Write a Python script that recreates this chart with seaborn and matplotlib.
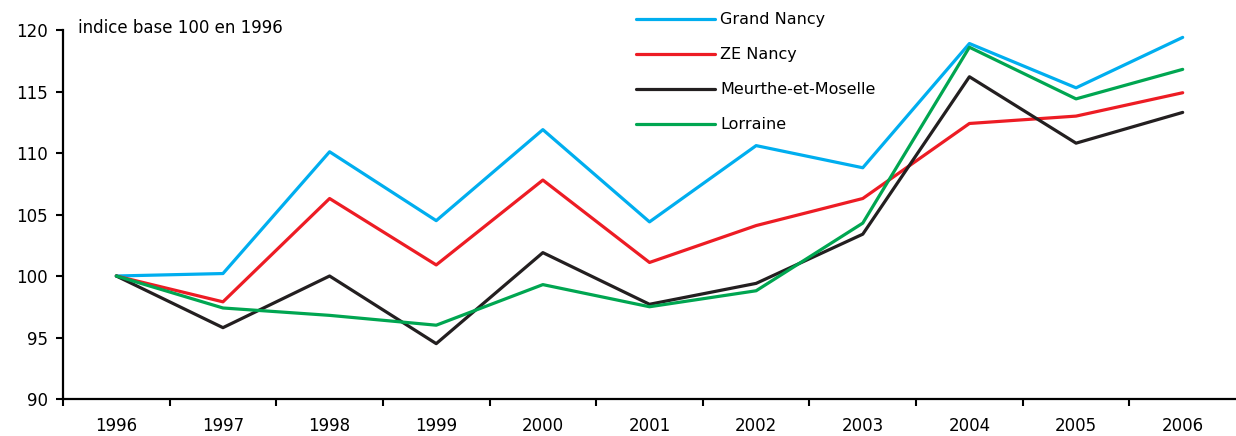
import pandas as pd
import numpy as np
import matplotlib
matplotlib.use("Agg")
import matplotlib.pyplot as plt
import seaborn as sns

years = ["1996", "1997", "1998", "1999", "2000", "2001", "2002", "2003", "2004", "2005", "2006"]
grand_nancy = [100, 100.2, 110.1, 104.5, 111.9, 104.4, 110.6, 108.8, 118.9, 115.3, 119.4]
ze_nancy = [100, 97.9, 106.3, 100.9, 107.8, 101.1, 104.1, 106.3, 112.4, 113.0, 114.9]
meurthe = [100, 95.8, 100.0, 94.5, 101.9, 97.7, 99.4, 103.4, 116.2, 110.8, 113.3]
lorraine = [100, 97.4, 96.8, 96.0, 99.3, 97.5, 98.8, 104.3, 118.6, 114.4, 116.8]

series = {
    "Grand Nancy": grand_nancy,
    "ZE Nancy": ze_nancy,
    "Meurthe-et-Moselle": meurthe,
    "Lorraine": lorraine,
}
colors = ["#00AEEF", "#ED1C24", "#231F20", "#00A651"]

rows = []
for name, vals in series.items():
    for i, v in enumerate(vals):
        rows.append({"pos": i, "zone": name, "indice": v})
df = pd.DataFrame(rows)

sns.set_style("ticks")
plt.rcParams["font.family"] = ["DejaVu Sans"]
plt.rcParams["text.color"] = "black"
plt.rcParams["xtick.color"] = "black"
plt.rcParams["ytick.color"] = "black"
plt.rcParams["axes.edgecolor"] = "black"

fig = plt.figure(figsize=(12.36, 4.36), dpi=100)
ax = fig.add_axes([63 / 1236, 1 - 399 / 436, 1 - 63 / 1236, (399 - 30) / 436])

sns.lineplot(data=df, x="pos", y="indice", hue="zone", palette=colors,
             linewidth=2.3, ax=ax, legend=True)

ax.set_xlim(-0.5, 10.5)
ax.set_ylim(90, 120)
ax.set_yticks(range(90, 121, 5))
ax.set_xticks(range(len(years)))
ax.set_xticklabels(years)
ax.set_xticks(np.arange(-0.5, 10.5, 1), minor=True)
ax.tick_params(axis="x", which="major", length=0, pad=13, labelsize=12)
ax.tick_params(axis="x", which="minor", length=5, width=1.5)
ax.tick_params(axis="y", length=5, width=1.5, labelsize=12, pad=6)
ax.set_xlabel("")
ax.set_ylabel("")
for s in ["top", "right"]:
    ax.spines[s].set_visible(False)
for s in ["left", "bottom"]:
    ax.spines[s].set_linewidth(1.6)

handles, labels = ax.get_legend_handles_labels()
leg = ax.legend(handles, labels, loc="upper left", bbox_to_anchor=(622 / 1236, 1 + 2 / 436),
                bbox_transform=fig.transFigure, frameon=False, fontsize=11.5,
                handlelength=4.9, handletextpad=0.35, labelspacing=1.25)
for line in leg.get_lines():
    line.set_linewidth(2.3)

fig.text(78 / 1236, 1 - 28 / 436, "indice base 100 en 1996", fontsize=12, va="center")

fig.savefig("out.png", dpi=100)
